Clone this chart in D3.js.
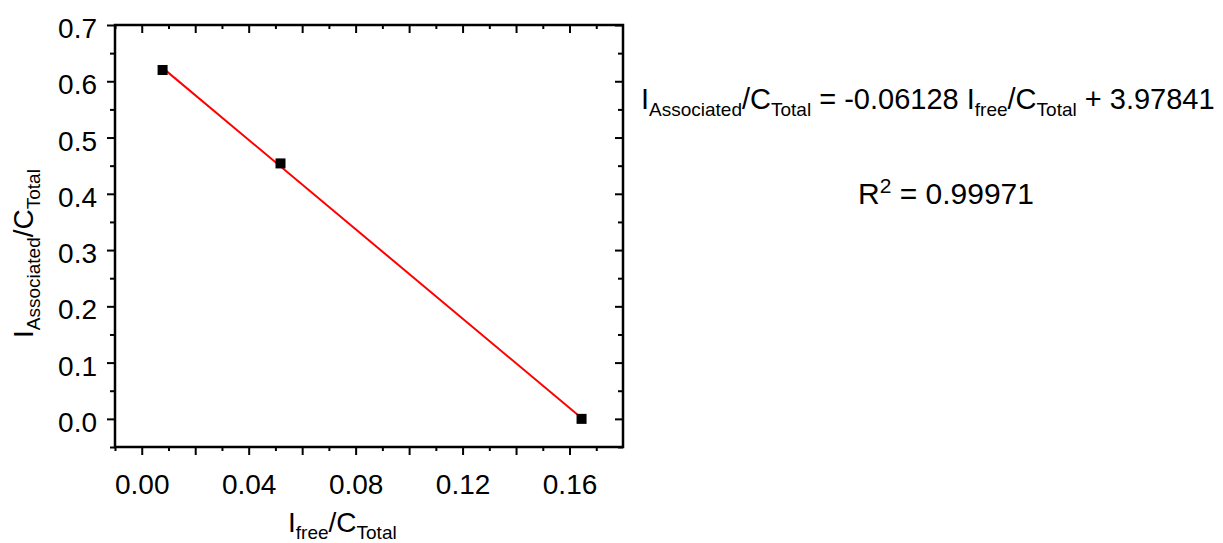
<!DOCTYPE html>
<html>
<head>
<meta charset="utf-8">
<script src="https://cdn.jsdelivr.net/npm/d3@7"></script>
<style>
  body { margin: 0; background: #fff; }
  svg { display: block; font-family: "Liberation Sans", Arial, sans-serif; }
</style>
</head>
<body>
<div id="chart"></div>
<script>
// values
const xValues = [0.0078, 0.0519, 0.1645];
const yValues = [0.620, 0.454, 0.000];

const xLabelTicks = [0.00, 0.04, 0.08, 0.12, 0.16];
const xMajorTicks = [0.00, 0.02, 0.04, 0.06, 0.08, 0.10, 0.12, 0.14, 0.16];
const xMinorTicks = [-0.01, 0.01, 0.03, 0.05, 0.07, 0.09, 0.11, 0.13, 0.15, 0.17];
const yLabelTicks = [0.0, 0.1, 0.2, 0.3, 0.4, 0.5, 0.6, 0.7];
const yMinorTicks = [-0.05, 0.05, 0.15, 0.25, 0.35, 0.45, 0.55, 0.65];

const eqParts = [
  ['I', 'main'], ['Associated', 'sub'], ['/C', 'main'], ['Total', 'sub'],
  [' = -0.06128 I', 'main'], ['free', 'sub'], ['/C', 'main'], ['Total', 'sub'],
  [' + 3.97841', 'main']
];
const r2Parts = [['R', 'main'], ['2', 'sup'], [' = 0.99971', 'main']];
const xTitleParts = [['I', 'main'], ['free', 'sub'], ['/C', 'main'], ['Total', 'sub']];
const yTitleParts = [['I', 'main'], ['Associated', 'sub'], ['/C', 'main'], ['Total', 'sub']];

const width = 1223;
const height = 543;
const box = { left: 115, right: 623, top: 25, bottom: 447 };
const fontSize = 28;
const subSize = 19;

const svg = d3.select('#chart').append('svg')
  .attr('width', width)
  .attr('height', height);

const x = d3.scaleLinear().domain([-0.01, 0.18]).range([box.left, box.right]);
const y = d3.scaleLinear().domain([-0.05, 0.7]).range([box.bottom, box.top]);

function styleAxis(g) {
  g.select('.domain').remove();
  g.selectAll('line').attr('stroke', '#000').attr('stroke-width', 2);
  g.selectAll('text').attr('font-size', fontSize).attr('fill', '#000')
    .attr('font-family', '"Liberation Sans", Arial, sans-serif');
}

// bottom axis: outward ticks, labels every 0.04
svg.append('g')
  .attr('transform', `translate(0,${box.bottom})`)
  .call(d3.axisBottom(x).tickValues(xMajorTicks).tickSize(8).tickPadding(19)
    .tickFormat((d) => (xLabelTicks.some((t) => Math.abs(t - d) < 1e-9) ? d3.format('.2f')(d) : '')))
  .call(styleAxis);
svg.append('g')
  .attr('transform', `translate(0,${box.bottom})`)
  .call(d3.axisBottom(x).tickValues(xMinorTicks).tickSize(4).tickFormat(''))
  .call(styleAxis);

// left axis
svg.append('g')
  .attr('transform', `translate(${box.left},0)`)
  .call(d3.axisLeft(y).tickValues(yLabelTicks).tickSize(8).tickPadding(10).tickFormat(d3.format('.1f')))
  .call(styleAxis)
  .call((g) => g.selectAll('text').attr('dy', '0.45em'));
svg.append('g')
  .attr('transform', `translate(${box.left},0)`)
  .call(d3.axisLeft(y).tickValues(yMinorTicks).tickSize(5).tickFormat(''))
  .call(styleAxis);

// top and right: inward ticks, no labels
svg.append('g')
  .attr('transform', `translate(0,${box.top})`)
  .call(d3.axisBottom(x).tickValues(xMajorTicks).tickSize(8).tickFormat(''))
  .call(styleAxis);
svg.append('g')
  .attr('transform', `translate(0,${box.top})`)
  .call(d3.axisBottom(x).tickValues(xMinorTicks).tickSize(4).tickFormat(''))
  .call(styleAxis);
svg.append('g')
  .attr('transform', `translate(${box.right},0)`)
  .call(d3.axisLeft(y).tickValues(yLabelTicks).tickSize(8).tickFormat(''))
  .call(styleAxis);
svg.append('g')
  .attr('transform', `translate(${box.right},0)`)
  .call(d3.axisLeft(y).tickValues(yMinorTicks).tickSize(5).tickFormat(''))
  .call(styleAxis);

// frame
svg.append('rect')
  .attr('x', box.left)
  .attr('y', box.top)
  .attr('width', box.right - box.left)
  .attr('height', box.bottom - box.top)
  .attr('fill', 'none')
  .attr('stroke', '#000')
  .attr('stroke-width', 2.5);

// least squares fit of the points
const mx = d3.mean(xValues);
const my = d3.mean(yValues);
const slope = d3.sum(xValues, (v, i) => (v - mx) * (yValues[i] - my)) / d3.sum(xValues, (v) => (v - mx) ** 2);
const intercept = my - slope * mx;
const fitX = d3.extent(xValues);

svg.append('line')
  .attr('x1', x(fitX[0]))
  .attr('y1', y(intercept + slope * fitX[0]))
  .attr('x2', x(fitX[1]))
  .attr('y2', y(intercept + slope * fitX[1]))
  .attr('stroke', '#ff0000')
  .attr('stroke-width', 2);

const points = xValues.map((v, i) => ({ x: v, y: yValues[i] }));
const size = 10;
svg.selectAll('rect.pt')
  .data(points)
  .enter()
  .append('rect')
  .attr('class', 'pt')
  .attr('x', (d) => x(d.x) - size / 2)
  .attr('y', (d) => y(d.y) - size / 2)
  .attr('width', size)
  .attr('height', size)
  .attr('fill', '#000');

function richText(parent, parts, attrs, main = fontSize, small = subSize) {
  const t = parent.append('text')
    .attr('font-size', main)
    .attr('fill', '#000');
  Object.keys(attrs).forEach((k) => t.attr(k, attrs[k]));
  let shift = 0;
  parts.forEach(([str, kind]) => {
    let target = 0;
    if (kind === 'sub') target = 7;
    if (kind === 'sup') target = -11;
    t.append('tspan')
      .attr('font-size', kind === 'main' ? main : small)
      .attr('dy', target - shift)
      .style('white-space', 'pre')
      .text(str);
    shift = target;
  });
  return t;
}

richText(svg, xTitleParts, { x: 288, y: 532 });
richText(svg, yTitleParts, { transform: 'translate(33,338) rotate(-90)' });
richText(svg, eqParts, { x: 641, y: 109 }, 29, 19);
richText(svg, r2Parts, { x: 858, y: 204 }, 30, 21);
</script>
</body>
</html>
